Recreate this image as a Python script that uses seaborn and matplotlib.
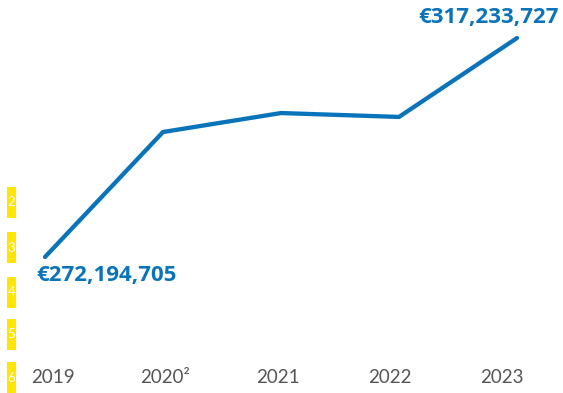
import matplotlib
matplotlib.use("Agg")
import matplotlib.pyplot as plt
from matplotlib.patches import Rectangle
import seaborn as sns
import pandas as pd
import numpy as np

# Total annual value, in euros
years = ["2019", "2020", "2021", "2022", "2023"]
tick_labels = ["2019", "2020²", "2021", "2022", "2023"]
values = [272194705, 297900000, 301800000, 301000000, 317233727]
side_notes = ["2", "3", "4", "5", "6"]

BLUE = "#0a74ba"
GREY = "#555555"
YELLOW = "#ffe500"

sns.set_theme(style="white")
plt.rcParams["font.family"] = ["Lato", "DejaVu Sans"]

W, H = 563, 393
fig = plt.figure(figsize=(W / 100, H / 100), dpi=100)
fig.patch.set_facecolor("white")

# axes fill the figure above the year labels
bottom_px = 25
ax = fig.add_axes([0, bottom_px / H, 1, 1 - bottom_px / H])

df = pd.DataFrame({"pos": np.arange(len(years)), "value": np.array(values) / 1e6})
sns.lineplot(data=df, x="pos", y="value", ax=ax, color=BLUE, linewidth=3.1,
             solid_capstyle="round", solid_joinstyle="miter")

# horizontal scale: first point at 45 px, 118 px per year
x0_px, step_px = 45, 118
ax.set_xlim(-x0_px / step_px, (W - x0_px) / step_px)

# vertical scale from the two end points (first at 257 px, last at 38 px from top)
v_first, v_last = values[0] / 1e6, values[-1] / 1e6
y_first_px, y_last_px = 257, 38
per_px = (v_last - v_first) / (y_first_px - y_last_px)
ax_h = H - bottom_px
ax.set_ylim(v_first - (ax_h - y_first_px) * per_px, v_last + y_last_px * per_px)

ax.set_xticks(np.arange(len(years)) * 0.95 + 0.07)
ax.set_xticklabels(tick_labels, color=GREY, fontsize=13.5, fontweight="normal")
ax.tick_params(axis="x", length=0, pad=1)
ax.set_yticks([])
ax.set_xlabel("")
ax.set_ylabel("")
for s in ax.spines.values():
    s.set_visible(False)
ax.set_facecolor("none")

# value callouts at both ends
callout_font = ["Open Sans", "DejaVu Sans"]
ax.annotate(f"€{values[0]:,}", xy=(0, values[0] / 1e6), xytext=(-6, -13),
            textcoords="offset points", ha="left", va="center",
            fontsize=16, fontweight="bold", family=callout_font, color=BLUE)
ax.annotate(f"€{values[-1]:,}", xy=(len(years) - 1, values[-1] / 1e6),
            xytext=(30, 15), textcoords="offset points", ha="right", va="center",
            fontsize=16, fontweight="bold", family=callout_font, color=BLUE)

# yellow side markers
marker_tops = [187, 232, 277, 319, 362]
for top, note in zip(marker_tops, side_notes):
    fig.patches.append(Rectangle((7 / W, 1 - (top + 31) / H), 9 / W, 31 / H,
                                 transform=fig.transFigure, facecolor=YELLOW,
                                 edgecolor="none"))
    fig.text(11.5 / W, 1 - (top + 15.5) / H, note, color="white", fontsize=9.5,
             ha="center", va="center")

fig.savefig("out.png", dpi=100, facecolor="white")
